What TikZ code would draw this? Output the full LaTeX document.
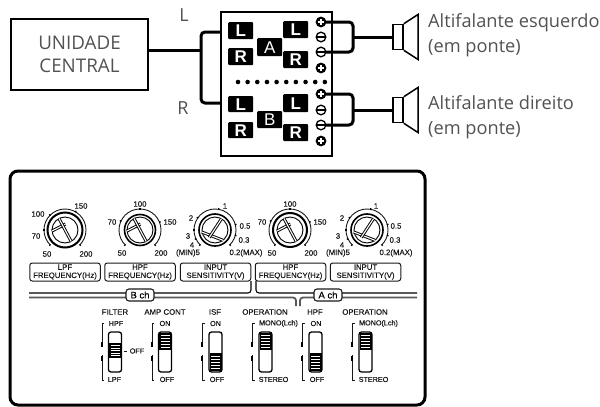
\documentclass[tikz,border=0pt]{standalone}
\usepackage{fontspec}
\setmainfont{Open Sans}
\newfontfamily\panelf[FakeBold=0.35]{Liberation Sans}
\newfontfamily\tagf{Liberation Sans}
\newcounter{lc}
\tikzset{
  wire/.style={line width=3pt,rounded corners=4pt},
  topt/.style={font=\fontsize{18.2}{25}\selectfont,text=black!68,align=left,inner sep=0pt},
  tagbox/.style={fill=black,text=white,rounded corners=1pt,inner sep=0pt,font=\tagf\bfseries\fontsize{17}{17}\selectfont},
  lbl/.style={font=\panelf\fontsize{7.8}{8.6}\selectfont,inner sep=0pt,text=black!90},
  swl/.style={font=\panelf\fontsize{7.2}{8}\selectfont,inner sep=0pt,text=black!90},
  capbox/.style={draw=black!90,line width=1pt,rounded corners=2.5pt,minimum width=70.5pt,minimum height=18pt,inner sep=0pt,align=center,font=\panelf\fontsize{7.8}{8.2}\selectfont,text=black!90},
  chbox/.style={draw=black!90,fill=white,line width=1.1pt,rounded corners=3pt,minimum width=28pt,minimum height=12pt,inner sep=0pt,font=\panelf\fontsize{9.5}{9.5}\selectfont},
}
\newcommand{\tagb}[6]{\node[tagbox,minimum width={(#4-#2)*1pt},minimum height={(#5-#3)*1pt},anchor=north west] (#1) at (#2,#3) {#6};}
\newcommand{\pl}[2]{\fill[black] (#1,#2) circle (5.4pt);\draw[white,line width=2pt] ({#1-3.2},#2) -- ({#1+3.2},#2) ({#1},{#2-3.2}) -- ({#1},{#2+3.2});}
\newcommand{\mi}[2]{\draw[black,fill=white,line width=1.3pt] (#1,#2) circle (4.8pt);\draw[black,line width=2.4pt] ({#1-4},#2) -- ({#1+4},#2);}
\newcommand{\spk}[2]{%
  \node[draw=black,line width=1.5pt,fill=white,minimum width=10pt,minimum height=25pt,inner sep=0pt] (#1) at (398,#2) {};
  \draw[black,line width=1.5pt,line join=miter] (#1.north east) -- (418,{#2-22.5}) -- (418,{#2+22.5}) -- (#1.south east);}
\newcommand{\lab}[3]{\stepcounter{lc}\node[lbl] (n\arabic{lc}) at (#1,#2) {#3};}
\newcommand{\slab}[3]{\stepcounter{lc}\node[swl] (n\arabic{lc}) at (#1,#2) {#3};}
\newcommand{\knobrings}[5]{%
  \begin{scope}[shift={(#1,230)},x=1pt,y=1pt]
    \draw[black!90,line width=0.9pt] (225:#2) arc (225:-45:#2);
    \foreach \a in {#5}{\draw[black,line width=1.3pt] (\a:{#2-0.5pt}) -- (\a:{#2+1.2pt});}
    \draw[black,line width=#4] (0,0) circle (#3);
    \draw[black,line width=0.9pt] (0,0) circle (13pt);
  \end{scope}}
\newcommand{\dbar}[4]{\draw[black,line width=3pt] (#1,#2) -- (#3,#4);\draw[white,line width=1.1pt] (#1,#2) -- (#3,#4);}
\newcommand{\knobA}[1]{%
  \begin{scope}[shift={(#1,230)},x=1pt,y=1pt]
    \dbar{-13}{-1}{0.5}{6}
    \dbar{-6}{11.5}{6.2}{-11.5}
  \end{scope}}
\newcommand{\knobB}[1]{%
  \begin{scope}[shift={(#1,230)},x=1pt,y=1pt]
    \dbar{-13.3}{-2}{8}{-10.3}
    \dbar{-5.8}{-7.5}{6.5}{11.3}
  \end{scope}}
\newcommand{\switch}[3]{%
  \draw[black!90,line width=1pt] ({#1-11},323) -- ({#1-13},323) -- ({#1-13},347);
  \draw[black!90,line width=1pt] ({#1-13},355) -- ({#1-13},380) -- ({#1-11},380);
  \fill[black] ({#1-14.2},342) rectangle ({#1-12.2},347);
  \fill[black] ({#1-14.2},356) rectangle ({#1-12.2},361);
  \draw[black,line width=1.3pt,rounded corners=2.5pt] ({#1-6.5},332) rectangle ({#1+6.5},372);
  \fill[black] ({#1-6},#2) rectangle ({#1+6},#3);
  \foreach \s in {1,...,5}{\draw[white,line width=0.9pt] ({#1-4.5},{#2+(#3-#2)*\s/6}) -- ({#1+4.5},{#2+(#3-#2)*\s/6});}
}
\begin{document}
\begin{tikzpicture}[x=1pt,y=-1pt]
\useasboundingbox (0,0) rectangle (600,407);
\node[draw=black,line width=1.5pt,minimum width=137pt,minimum height=71pt,inner sep=0pt,align=center,font=\fontsize{18.8}{23}\selectfont,text=black!68] (unit) at (79.5,54.5) {UNIDADE\\CENTRAL};
\node[draw=black,line width=1.7pt,minimum width=111pt,minimum height=144pt,inner sep=0pt] (amp) at (276.5,84) {};
\node[font=\fontsize{18}{18}\selectfont,text=black!68,inner sep=0pt] (lL) at (184,15) {L};
\node[font=\fontsize{18}{18}\selectfont,text=black!68,inner sep=0pt] (lR) at (183,108) {R};
\coordinate (a1) at (221,32);
\coordinate (a2) at (221,103);
\coordinate (unitout) at (148,50);
\draw[wire] (a1) -- (201,32) -- (201,103) -- (a2);
\draw[line width=3pt] (unitout) -- (201,50);
\tagb{la}{228}{22}{253}{39}{L}
\tagb{ra}{228}{48}{253}{65}{R}
\tagb{lb}{283}{21}{308}{38}{L}
\tagb{rb}{283}{51}{308}{68}{R}
\tagb{ca}{257}{38}{282}{56}{\mdseries A}
\tagb{lc1}{228}{96}{253}{112}{L}
\tagb{rc}{228}{122}{253}{138}{R}
\tagb{ld}{283}{94}{308}{112}{L}
\tagb{rd}{283}{124}{308}{141}{R}
\tagb{cb}{257}{111}{282}{128}{\mdseries B}
\foreach \i in {0,...,9}{\fill[black] ({238+\i*9.65},82) circle (2.3pt);}
\spk{s1}{37}
\spk{s2}{110}
\coordinate (t1) at (326,22);\coordinate (t2) at (326,52);
\coordinate (t3) at (326,94);\coordinate (t4) at (326,125);
\draw[wire] (t1) -- (353,22) -- (353,52) -- (t2);
\draw[line width=3pt] (353,37) -- (s1.west);
\draw[wire] (t3) -- (353,94) -- (353,125) -- (t4);
\draw[line width=3pt] (353,110) -- (s2.west);
\pl{321}{22}\mi{321}{37}\mi{321}{52}\pl{321}{68}
\pl{321}{94}\mi{321}{110}\mi{321}{125}\pl{321}{141}
\node[topt,anchor=west] (sp1) at (428,35) {Altifalante esquerdo\\(em ponte)};
\node[topt,anchor=west] (sp2) at (428,117) {Altifalante direito\\(em ponte)};
\draw[black,line width=3pt,rounded corners=8pt] (10,171) rectangle (425,405);
\knobrings{65}{21pt}{17.5pt}{2pt}{225,180,135,60,-45}\knobA{65}
\knobrings{140}{21pt}{15.5pt}{1.6pt}{225,155,90,22,-45}\knobA{140}
\knobrings{215}{21pt}{16pt}{1.6pt}{225,205,180,145,80,15,-15,-45}\knobB{215}
\knobrings{290}{21pt}{17pt}{2pt}{225,155,90,22,-45}\knobA{290}
\knobrings{367}{21pt}{16pt}{1.6pt}{225,205,180,145,80,15,-15,-45}\knobB{367}
\lab{81}{206}{150}\lab{38}{214}{100}\lab{36}{236}{70}\lab{47}{254}{50}\lab{86}{254}{200}
\lab{140}{204}{100}\lab{112}{222}{70}\lab{170}{222}{150}\lab{122}{253}{50}\lab{161}{253}{200}
\lab{225}{206}{1}\lab{191}{218}{2}\lab{188}{236}{3}\lab{192}{245}{4}\lab{188}{253}{(MIN)5}\lab{245}{226}{0.5}\lab{244}{240}{0.3}\lab{246}{253}{0.2(MAX)}
\lab{290}{204}{100}\lab{262}{222}{70}\lab{320}{222}{150}\lab{272}{253}{50}\lab{311}{253}{200}
\lab{376}{206}{1}\lab{342}{218}{2}\lab{338}{236}{3}\lab{342}{245}{4}\lab{338}{253}{(MIN)5}\lab{396}{226}{0.5}\lab{395}{240}{0.3}\lab{396}{253}{0.2(MAX)}
\node[capbox] (c1) at (65,272) {LPF\\FREQUENCY(Hz)};
\node[capbox] (c2) at (140,272) {HPF\\FREQUENCY(Hz)};
\node[capbox] (c3) at (215.5,272) {INPUT\\SENSITIVITY(V)};
\node[capbox] (c4) at (290.5,272) {HPF\\FREQUENCY(Hz)};
\node[capbox] (c5) at (365.5,272) {INPUT\\SENSITIVITY(V)};
\draw[black,line width=1.1pt,rounded corners=3pt] (29,293) -- (251,293) -- (251,281);
\draw[black!65,line width=1.8pt,rounded corners=3pt] (29,297.5) -- (296,297.5) -- (296,306);
\draw[black,line width=1.1pt,rounded corners=3pt] (256,281) -- (256,293) -- (417,293);
\draw[black!65,line width=1.8pt,rounded corners=3pt] (300,306) -- (300,297.5) -- (417,297.5);
\node[chbox] (bch) at (140,295) {B ch};
\node[chbox] (ach) at (328,295) {A ch};
\switch{115}{343}{358}
\switch{165}{333}{350}
\switch{215.5}{353}{371}
\switch{265.5}{333}{350}
\switch{315.5}{353}{371}
\switch{365.5}{333}{350}
\draw[black!90,line width=1pt] (123.5,351) -- (127,351);
\lab{115}{312}{FILTER}\lab{165}{312}{AMP CONT}\lab{215}{312}{ISF}\lab{265}{312}{OPERATION}\lab{315}{312}{HPF}\lab{365}{312}{OPERATION}
\slab{116}{323.5}{HPF}\slab{114.5}{379.5}{LPF}\slab{137}{351}{OFF}
\slab{165}{323.5}{ON}\slab{167}{379.5}{OFF}
\slab{215.5}{323.5}{ON}\slab{217}{379.5}{OFF}
\slab{278.5}{323.5}{MONO(Lch)}\slab{273.5}{379.5}{STEREO}
\slab{316}{323.5}{ON}\slab{317}{379.5}{OFF}
\slab{378.5}{323.5}{MONO(Lch)}\slab{373.5}{379.5}{STEREO}
\end{tikzpicture}
\end{document}
